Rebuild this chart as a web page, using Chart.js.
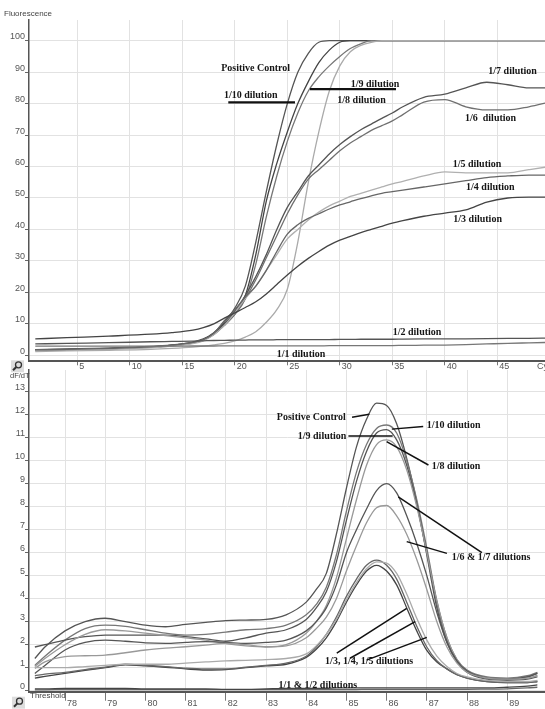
<!DOCTYPE html>
<html><head><meta charset="utf-8">
<script src="https://cdn.jsdelivr.net/npm/chart.js@4/dist/chart.umd.min.js"></script>
<style>
html,body{margin:0;padding:0;background:#fff;width:545px;height:709px;overflow:hidden}
.wrap{position:absolute;left:0}
</style></head><body>
<div class="wrap" style="top:0"><canvas id="c1" width="545" height="374"></canvas></div>
<div class="wrap" style="top:360px"><canvas id="c2" width="545" height="349"></canvas></div>
<script>
// ---------- Amplification (top) ----------
const cycles = [1,4,8,12,14,16,17,18,19,20,21,22,23,24,25,26,27,28,29,30,31,32,33,34,35,36,38,40,42,44,46,48,50];
const ampPC   = [1.8,2.0,2.3,2.8,3.3,4.2,5.2,7.2,10.5,15,22,36,52,67,80,90,96,99.5,100,100,100,100,100,100,100,100,100,100,100,100,100,100,100];
const amp1_10 = [1.6,1.8,2.1,2.6,3.1,4.0,5.0,7.0,10,13.5,19,32,49,61,71,80,87,93,97,99.5,100,100,100,100,100,100,100,100,100,100,100,100,100];
const amp1_9  = [1.5,1.7,2.0,2.5,3.0,3.9,4.8,6.6,9.5,13,18,29,44,57,68,77,84,88.5,92,95,97.5,99,100,100,100,100,100,100,100,100,100,100,100];
const amp1_8  = [1.2,1.4,1.6,1.9,2.2,2.6,2.9,3.3,3.8,4.6,5.8,7.5,10.5,14.5,21,36,55,71,84,92,96.5,98.5,99.5,100,100,100,100,100,100,100,100,100,100];
const amp1_7  = [1.7,1.9,2.2,2.7,3.2,4.1,5.0,6.8,9.8,14,19,25,32,40,47,52,57,60.5,64,67,69.5,71.7,73.5,75.3,77,79,82,83,85,86.8,86,85,85];
const amp1_6  = [1.6,1.8,2.1,2.6,3.1,4.0,4.9,6.6,9.5,13,18,24,31,38,45,51,56,59,62,65,67.5,69.5,71.5,73,74.5,76.5,80.5,81.3,79,78,78,79,80.5];
const amp1_5  = [1.5,1.7,2.0,2.4,2.9,3.7,4.6,6.5,9.5,13.5,18,22,27,32,37,40,43,45.5,47.5,49,50.5,51.5,52.5,53.5,54.5,55.3,57,58.3,58,58,58,59,60];
const amp1_4  = [1.7,1.9,2.2,2.7,3.2,4.1,5.0,7.0,11,14.5,18.5,22,27,33,38.5,41.5,43.5,45,46.5,47.8,48.8,49.8,50.7,51.5,52,52.5,53.5,54.5,55.5,56.5,57,57.3,57.3];
const amp1_3  = [5.2,5.6,6.1,6.7,7.2,8.0,8.8,10,11.8,13.5,15.2,17,19.5,22.5,25.5,28.3,30.8,33,35,36.6,37.8,39,40,41,42,42.8,44.2,45.2,46.2,48.7,50,50.3,50.3];
const amp1_2  = [3.6,3.8,4.0,4.3,4.4,4.5,4.6,4.7,4.75,4.8,4.85,4.9,4.9,4.95,5.0,5.0,5.0,5.0,5.0,5.05,5.05,5.1,5.1,5.1,5.1,5.15,5.2,5.2,5.25,5.3,5.35,5.4,5.5];
const amp1_1  = [2.9,2.9,2.9,2.9,2.9,2.95,2.95,2.95,3.0,3.0,3.0,3.0,3.0,3.0,3.0,3.0,3.0,3.0,3.05,3.05,3.05,3.1,3.1,3.1,3.1,3.15,3.2,3.25,3.4,3.6,3.8,3.95,4.1];

// ---------- Melt curves (bottom) ----------
const temps = [77.25,77.5,78,78.5,79,79.5,80,80.5,81,81.5,82,82.5,83,83.5,84,84.25,84.5,84.75,85,85.25,85.5,85.75,86,86.25,86.5,86.75,87,87.25,87.5,87.75,88,88.5,89,89.5,89.75];
const meltPC   = [1.4,1.9,2.6,3.0,3.15,3.0,2.85,2.78,2.88,2.97,3.05,3.07,3.1,3.3,3.85,4.4,5.1,6.8,8.8,10.6,11.8,12.5,12.4,11.6,10.1,8.2,5.9,3.6,2.1,1.25,0.85,0.55,0.5,0.6,0.75];
const melt1_10 = [1.1,1.5,2.2,2.7,2.85,2.8,2.65,2.5,2.42,2.45,2.55,2.65,2.7,2.85,3.3,3.75,4.5,5.9,7.8,9.5,10.7,11.4,11.55,11.2,10.0,8.3,6.2,3.9,2.3,1.35,0.9,0.6,0.55,0.65,0.8];
const melt1_9  = [1.9,2.0,2.2,2.35,2.42,2.42,2.42,2.42,2.35,2.25,2.15,2.3,2.5,2.65,3.1,3.6,4.3,5.6,7.4,9.1,10.4,11.2,11.35,10.9,9.8,8.1,6.0,3.8,2.2,1.3,0.8,0.5,0.45,0.5,0.6];
const melt1_8  = [1.05,1.4,2.0,2.45,2.65,2.6,2.5,2.4,2.3,2.2,2.05,1.95,1.9,2.0,2.5,3.0,3.7,4.9,6.6,8.3,9.8,10.7,10.9,10.6,9.6,8.0,6.0,3.9,2.3,1.35,0.85,0.55,0.5,0.55,0.65];
const melt1_7  = [0.75,1.1,1.77,2.1,2.2,2.15,2.08,2.06,2.1,2.13,2.1,2.06,2.1,2.2,2.6,3.0,3.6,4.6,6.0,7.0,7.9,8.7,9.0,8.6,7.6,6.4,5.0,3.4,2.1,1.3,0.85,0.55,0.5,0.6,0.75];
const melt1_6  = [0.97,1.25,1.48,1.52,1.55,1.65,1.77,1.85,1.91,1.98,2.06,2.0,1.91,1.95,2.3,2.7,3.2,4.0,5.2,6.3,7.3,7.95,8.05,7.6,6.8,5.7,4.4,3.0,1.9,1.2,0.8,0.55,0.5,0.55,0.65];
const melt1_5  = [1.0,1.0,1.0,1.05,1.1,1.15,1.15,1.15,1.2,1.25,1.3,1.32,1.35,1.4,1.6,1.95,2.45,3.1,3.95,4.7,5.3,5.6,5.55,5.1,4.2,3.15,2.2,1.5,1.05,0.75,0.6,0.45,0.4,0.4,0.45];
const melt1_4  = [0.65,0.72,0.8,0.92,1.02,1.15,1.1,1.05,0.98,0.95,0.95,1.02,1.1,1.2,1.5,1.9,2.45,3.2,4.1,4.85,5.45,5.68,5.45,4.85,3.85,2.8,1.9,1.3,0.95,0.7,0.55,0.4,0.35,0.35,0.4];
const melt1_3  = [0.55,0.62,0.75,0.88,1.0,1.12,1.08,1.02,0.95,0.9,0.92,1.0,1.08,1.15,1.45,1.8,2.3,3.0,3.85,4.6,5.2,5.45,5.2,4.6,3.6,2.6,1.75,1.25,0.95,0.7,0.55,0.4,0.35,0.35,0.4];
const melt1_2  = [0.04,0.04,0.05,0.05,0.05,0.05,0.05,0.05,0.05,0.05,0.05,0.05,0.05,0.05,0.05,0.05,0.05,0.05,0.05,0.05,0.06,0.06,0.06,0.06,0.06,0.06,0.06,0.06,0.06,0.06,0.06,0.07,0.08,0.12,0.15];
const melt1_1  = [0.08,0.08,0.1,0.1,0.1,0.1,0.08,0.08,0.08,0.08,0.06,0.06,0.08,0.1,0.1,0.1,0.1,0.12,0.12,0.12,0.12,0.12,0.12,0.12,0.12,0.12,0.12,0.12,0.12,0.12,0.12,0.12,0.15,0.2,0.25];

// Annotations (data coordinates)
const topLabels = [
  {t:'Positive Control', x:18.70, y:91.2},
  {t:'1/10 dilution', x:18.96, y:82.6},
  {t:'1/9 dilution', x:31.04, y:86.0},
  {t:'1/8 dilution', x:29.76, y:81.1},
  {t:'1/7 dilution', x:44.14, y:90.1},
  {t:'1/6  dilution', x:41.92, y:75.3},
  {t:'1/5 dilution', x:40.75, y:60.7},
  {t:'1/4 dilution', x:42.02, y:53.4},
  {t:'1/3 dilution', x:40.81, y:43.3},
  {t:'1/2 dilution', x:35.04, y:7.2},
  {t:'1/1 dilution', x:23.99, y:0.3}
];
const topPointers = [
  {x1:19.38, y1:80.4, x2:25.73, y2:80.4, w:2.2},
  {x1:27.16, y1:84.6, x2:35.35, y2:84.6, w:2.2}
];
const botLabels = [
  {t:'Positive Control', x:83.27, y:11.87},
  {t:'1/10 dilution', x:87.0, y:11.51},
  {t:'1/9 dilution', x:83.79, y:11.07},
  {t:'1/8 dilution', x:87.12, y:9.74},
  {t:'1/6 & 1/7 dilutions', x:87.62, y:5.79},
  {t:'1/3, 1/4, 1/5 dilutions', x:84.47, y:1.26},
  {t:'1/1 & 1/2 dilutions', x:83.31, y:0.25}
];
const botPointers = [
  {x1:85.14, y1:11.89, x2:85.57, y2:12.02, w:1.5},
  {x1:86.91, y1:11.48, x2:86.13, y2:11.37, w:1.5},
  {x1:85.05, y1:11.07, x2:86.15, y2:11.07, w:1.5},
  {x1:87.04, y1:9.81, x2:86.0, y2:10.83, w:1.5},
  {x1:86.29, y1:8.43, x2:88.37, y2:6.0, w:1.5},
  {x1:86.5, y1:6.48, x2:87.5, y2:5.97, w:1.5},
  {x1:84.76, y1:1.63, x2:86.5, y2:3.58, w:1.5},
  {x1:85.09, y1:1.41, x2:86.71, y2:3.0, w:1.5},
  {x1:85.5, y1:1.33, x2:87.0, y2:2.32, w:1.5}
];

function series(xs, ys, color) {
  return {data: xs.map((v,i)=>({x:v, y:ys[i]})), borderColor: color, borderWidth: 1.3,
          pointRadius: 0, fill: false, cubicInterpolationMode: 'monotone'};
}

function drawIcon(ctx, cx, cy) {
  ctx.save();
  ctx.fillStyle = '#ddd'; ctx.fillRect(cx-6, cy-6, 13, 12);
  ctx.strokeStyle = '#333'; ctx.lineWidth = 1.3;
  ctx.beginPath(); ctx.arc(cx+1.5, cy-1.5, 3, 0, Math.PI*2); ctx.stroke();
  ctx.lineWidth = 2;
  ctx.beginPath(); ctx.moveTo(cx-0.7, cy+0.7); ctx.lineTo(cx-4, cy+4); ctx.stroke();
  ctx.restore();
}

function overlay(labels, pointers, extra) {
  return {
    id: 'overlay',
    afterDatasetsDraw(chart) {
      const {ctx} = chart; const xs = chart.scales.x, ys = chart.scales.y;
      ctx.save();
      ctx.strokeStyle = '#111';
      pointers.forEach(p => {
        ctx.lineWidth = p.w; ctx.beginPath();
        ctx.moveTo(xs.getPixelForValue(p.x1), ys.getPixelForValue(p.y1));
        ctx.lineTo(xs.getPixelForValue(p.x2), ys.getPixelForValue(p.y2));
        ctx.stroke();
      });
      ctx.font = 'bold 10px "Liberation Serif", "Times New Roman", serif';
      ctx.fillStyle = '#151515'; ctx.textBaseline = 'middle'; ctx.textAlign = 'left';
      labels.forEach(l => ctx.fillText(l.t, xs.getPixelForValue(l.x), ys.getPixelForValue(l.y)));
      ctx.restore();
    },
    afterDraw(chart) { extra(chart); }
  };
}

function scaleOpts(xmin, xmax, xstep, ymin, ymax, ystep, xh, xtl, xpad) {
  return {
    x: {type:'linear', min:xmin, max:xmax,
        afterFit(s){ s.height = xh; },
        border:{display:true, color:'#555', width:2},
        grid:{color:'#e2e2e2', lineWidth:1, tickLength:xtl, tickColor:'#777', drawTicks:true},
        ticks:{stepSize:xstep, includeBounds:false, autoSkip:false, maxRotation:0, align:'start',
               labelOffset:2, padding:xpad, color:'#555', font:{family:'"Liberation Sans", Arial, sans-serif', size:9}}},
    y: {type:'linear', min:ymin, max:ymax,
        afterFit(s){ s.width = 29; },
        border:{display:true, color:'#555', width:1.5},
        grid:{color:'#e2e2e2', lineWidth:1, tickLength:4, tickColor:'#666', drawTicks:true},
        ticks:{stepSize:ystep, includeBounds:false, autoSkip:false, padding:0, labelOffset:-4,
               color:'#555', font:{family:'"Liberation Sans", Arial, sans-serif', size:9}}}
  };
}

const common = {responsive:false, animation:false, events:[],
  plugins:{legend:{display:false}, tooltip:{enabled:false}}};

new Chart(document.getElementById('c1'), {
  type:'line',
  data:{datasets:[
    series(cycles, amp1_1, '#777'),
    series(cycles, amp1_2, '#555'),
    series(cycles, amp1_3, '#444'),
    series(cycles, amp1_4, '#666'),
    series(cycles, amp1_5, '#b0b0b0'),
    series(cycles, amp1_6, '#707070'),
    series(cycles, amp1_7, '#555'),
    series(cycles, amp1_8, '#aaa'),
    series(cycles, amp1_9, '#777'),
    series(cycles, amp1_10, '#444'),
    series(cycles, ampPC, '#555')
  ]},
  options:Object.assign({}, common, {
    layout:{padding:{top:20, left:0, right:0, bottom:0}},
    scales: scaleOpts(0.40, 49.54, 5, -1.91, 106.58, 10, 12.7, 4, -4)
  }),
  plugins:[overlay(topLabels, topPointers, chart => {
    const ctx = chart.ctx;
    ctx.save();
    ctx.fillStyle = '#444'; ctx.textBaseline = 'middle'; ctx.textAlign = 'left';
    ctx.font = '8px "Liberation Sans", Arial, sans-serif';
    ctx.fillText('Fluorescence', 4, chart.chartArea.top - 6);
    ctx.font = '9px "Liberation Sans", Arial, sans-serif';
    ctx.fillStyle = '#555';
    ctx.fillText('Cy', chart.chartArea.right - 8, chart.chartArea.bottom + 5.5);
    ctx.restore();
    drawIcon(ctx, 17, chart.chartArea.bottom + 5);
  })]
});

new Chart(document.getElementById('c2'), {
  type:'line',
  data:{datasets:[
    series(temps, melt1_1, '#444'),
    series(temps, melt1_2, '#666'),
    series(temps, melt1_5, '#aaa'),
    series(temps, melt1_4, '#666'),
    series(temps, melt1_3, '#444'),
    series(temps, melt1_6, '#999'),
    series(temps, melt1_7, '#555'),
    series(temps, melt1_8, '#999'),
    series(temps, melt1_9, '#555'),
    series(temps, melt1_10, '#777'),
    series(temps, meltPC, '#555')
  ]},
  options:Object.assign({}, common, {
    layout:{padding:{top:10, left:0, right:0, bottom:0}},
    scales: scaleOpts(77.104, 89.94, 1, -0.043, 13.94, 1, 17.3, 9, -3)
  }),
  plugins:[overlay(botLabels, botPointers, chart => {
    const ctx = chart.ctx;
    ctx.save();
    ctx.fillStyle = '#444'; ctx.textBaseline = 'middle'; ctx.textAlign = 'left';
    ctx.font = '7.5px "Liberation Sans", Arial, sans-serif';
    ctx.fillText('dF/dT', 10, chart.chartArea.top + 6);
    ctx.font = '8px "Liberation Sans", Arial, sans-serif';
    ctx.fillText('Threshold', chart.chartArea.left + 1, chart.chartArea.bottom + 4.5);
    ctx.restore();
    drawIcon(ctx, 18, chart.chartArea.bottom + 11);
  })]
});
</script>
</body></html>
